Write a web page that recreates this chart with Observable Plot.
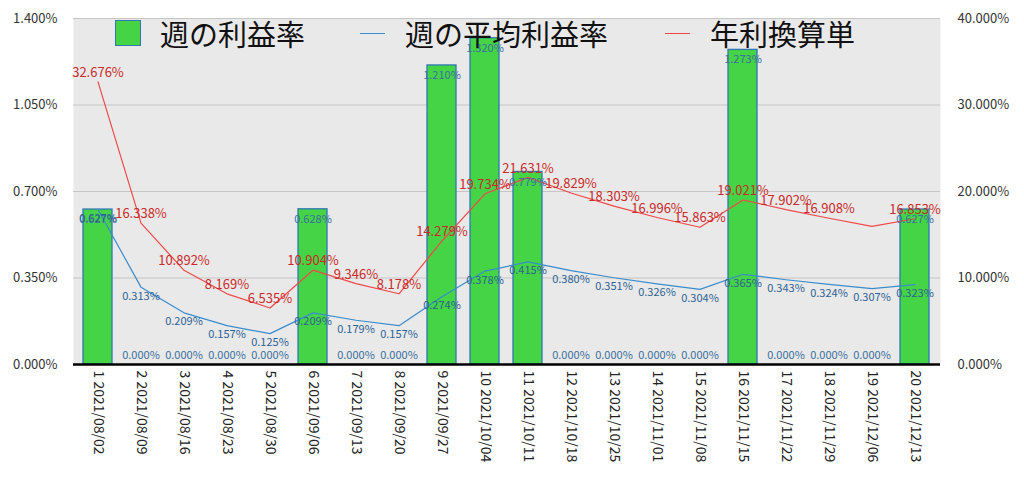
<!DOCTYPE html>
<html><head><meta charset="utf-8">
<script src="https://cdn.jsdelivr.net/npm/d3@7"></script>
<script src="https://cdn.jsdelivr.net/npm/@observablehq/plot@0.6"></script>
<style>
body{margin:0;background:#fff;}
#wrap{position:relative;width:1024px;height:477px;font-family:"Noto Sans CJK JP","Noto Sans",sans-serif;}
#wrap svg{position:absolute;left:0;top:0;}
.lg{position:absolute;top:14px;font-size:29px;line-height:38px;color:#111;white-space:nowrap;}
.sw{position:absolute;}
</style></head><body><div id="wrap"></div>
<script>
const weeks = ["1","2","3","4","5","6","7","8","9","10","11","12","13","14","15","16","17","18","19","20"];
const dates = ["2021/08/02","2021/08/09","2021/08/16","2021/08/23","2021/08/30","2021/09/06","2021/09/13","2021/09/20","2021/09/27","2021/10/04","2021/10/11","2021/10/18","2021/10/25","2021/11/01","2021/11/08","2021/11/15","2021/11/22","2021/11/29","2021/12/06","2021/12/13"];
const weeklyProfit = [0.627,0,0,0,0,0.628,0,0,1.210,1.320,0.779,0,0,0,0,1.273,0,0,0,0.627];
const avgProfit = [0.627,0.313,0.209,0.157,0.125,0.209,0.179,0.157,0.274,0.378,0.415,0.380,0.351,0.326,0.304,0.365,0.343,0.324,0.307,0.323];
const annualized = [32.676,16.338,10.892,8.169,6.535,10.904,9.346,8.178,14.279,19.734,21.631,19.829,18.303,16.996,15.863,19.021,17.902,16.908,15.96,16.853];
const hiddenAnnualLabels = ["19"];
const leftTicks = [0,0.35,0.7,1.05,1.4];
const rightTicks = [0,10,20,30,40];
const seriesNames = ["週の利益率","週の平均利益率","年利換算単"];

const yMax = leftTicks[leftTicks.length-1];
const rMax = rightTicks[rightTicks.length-1];
const toLeft = v => v / rMax * yMax;
const cats = weeks.map((w,i)=> w + " " + dates[i]);
const rows = cats.map((c,i)=>({c, week:weeks[i], bar:weeklyProfit[i], avg:avgProfit[i], ann:annualized[i], annY:toLeft(annualized[i])}));

const BLUE_TXT = "#2d6296", RED_TXT = "#c92a2a";
const chart = Plot.plot({
  width:1024, height:477,
  marginLeft:73, marginRight:84, marginTop:18, marginBottom:113,
  style:{fontFamily:"'Noto Sans CJK JP','Noto Sans',sans-serif", fontSize:"13px", background:"transparent", color:"#333"},
  x:{type:"band", domain:cats, paddingInner:0.32, paddingOuter:0.17},
  y:{domain:[0,yMax]},
  marks:[
    Plot.frame({fill:"#e9e9e9", stroke:null}),
    Plot.gridY(leftTicks, {stroke:"#c6c6c6", strokeOpacity:1, strokeWidth:1.2}),
    Plot.barY(rows, {x:"c", y:"bar", fill:"#45d445", stroke:"#2f78b4", strokeWidth:1.3}),
    Plot.line(rows, {x:"c", y:"avg", stroke:"#3a8ccc", strokeWidth:1.2}),
    Plot.line(rows, {x:"c", y:"annY", stroke:"#f04848", strokeWidth:1.2}),
    Plot.text(rows.filter(d=>d.bar>0), {x:"c", y:"bar", text:d=>d.bar.toFixed(3)+"%", dy:10, fill:"#3a6fa0", fontSize:11}),
    Plot.text(rows.filter(d=>d.bar===0), {x:"c", y:"bar", text:d=>d.bar.toFixed(3)+"%", dy:-9, fill:"#3a6fa0", fontSize:11}),
    Plot.text(rows, {x:"c", y:"avg", text:d=>d.avg.toFixed(3)+"%", dy:9, fill:BLUE_TXT, fontSize:11}),
    Plot.text(rows.filter(d=>!hiddenAnnualLabels.includes(d.week)), {x:"c", y:"annY", text:d=>d.ann.toFixed(3)+"%", dy:-9, fill:RED_TXT, fontSize:13}),
    Plot.ruleY([0], {stroke:"#000", strokeWidth:2.5}),
    Plot.axisY(leftTicks, {anchor:"left", tickSize:0, tickPadding:16, tickFormat:d=>d.toFixed(3)+"%", fill:"#333", fontSize:13, label:null}),
    Plot.axisY(rightTicks.map(toLeft), {anchor:"right", tickSize:0, tickPadding:17, tickFormat:d=>(d/yMax*rMax).toFixed(3)+"%", fill:"#333", fontSize:13, label:null}),
    Plot.axisX({tickSize:0, tickPadding:6, tickRotate:90, fill:"#222", fontSize:14, label:null})
  ]
});
const wrap = document.getElementById("wrap");
wrap.appendChild(chart);

function add(html){ wrap.insertAdjacentHTML("beforeend", html); }
add(`<div class="sw" style="left:115px;top:20px;width:24px;height:24px;background:#45d445;border:1px solid #2f78b4;"></div>`);
add(`<div class="lg" style="left:160px;">${seriesNames[0]}</div>`);
add(`<div class="sw" style="left:360px;top:33px;width:25px;height:0;border-top:1px solid #3a8ccc;"></div>`);
add(`<div class="lg" style="left:405px;">${seriesNames[1]}</div>`);
add(`<div class="sw" style="left:665px;top:33px;width:25px;height:0;border-top:1px solid #f04848;"></div>`);
add(`<div class="lg" style="left:710px;">${seriesNames[2]}</div>`);
</script>
</body></html>
